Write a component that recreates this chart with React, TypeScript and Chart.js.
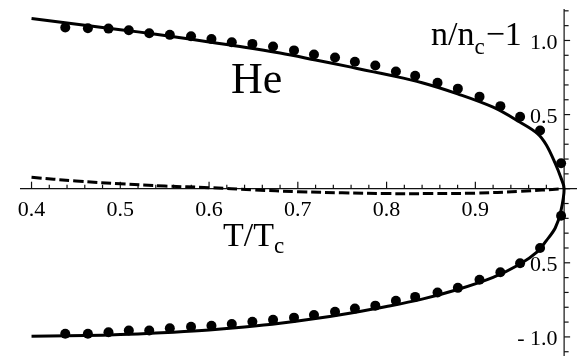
import React, { useEffect, useRef } from "react";
import { Chart, registerables } from "chart.js";

Chart.register(...registerables);

// Measured data points (T/Tc, n/nc - 1)
const dotT = [
  0.438, 0.4635, 0.4867, 0.5096, 0.5326, 0.5558, 0.5797, 0.6027, 0.6256, 0.6488,
  0.6721, 0.6957, 0.7182, 0.7419, 0.7643, 0.7873, 0.8105, 0.8322, 0.8574, 0.8803,
  0.9047, 0.9282, 0.9504, 0.9729, 0.9966,
];
const dotUpper = [
  1.087, 1.082, 1.08, 1.069, 1.049, 1.038, 1.028, 1.01, 0.988, 0.977,
  0.959, 0.933, 0.905, 0.885, 0.857, 0.831, 0.791, 0.762, 0.715, 0.675,
  0.621, 0.557, 0.485, 0.393, 0.172,
];
const dotLower = [
  -0.979, -0.979, -0.969, -0.957, -0.957, -0.942, -0.931, -0.925, -0.913, -0.898,
  -0.885, -0.87, -0.852, -0.831, -0.809, -0.789, -0.756, -0.73, -0.7, -0.669,
  -0.614, -0.564, -0.503, -0.4, -0.182,
];

// Theory curve, upper and lower branches
const curveT = [0.4, 0.44, 0.48, 0.52, 0.56, 0.6, 0.64, 0.68, 0.72, 0.76, 0.8, 0.84, 0.88, 0.92, 0.95, 0.97, 0.98, 0.99, 0.996, 1.0];
const curveUpper = [1.148, 1.118, 1.087, 1.058, 1.025, 0.99, 0.955, 0.915, 0.868, 0.82, 0.77, 0.715, 0.64, 0.55, 0.45, 0.372, 0.295, 0.17, 0.08, 0];
const curveLower = [-0.995, -0.993, -0.988, -0.98, -0.968, -0.953, -0.933, -0.908, -0.876, -0.838, -0.795, -0.745, -0.68, -0.598, -0.51, -0.425, -0.35, -0.265, -0.16, 0];

// Dashed curve
const dashT = [0.4, 0.45, 0.5, 0.55, 0.6, 0.65, 0.7, 0.75, 0.8, 0.85, 0.9, 0.95, 1.0];
const dashY = [0.077, 0.052, 0.033, 0.018, 0.007, -0.008, -0.02, -0.028, -0.033, -0.033, -0.03, -0.018, 0];

// Tick labels
const xTickValues = [0.4, 0.5, 0.6, 0.7, 0.8, 0.9];
const xTickLabels = ["0.4", "0.5", "0.6", "0.7", "0.8", "0.9"];
const yTickValues = [1.0, 0.5, -0.5, -1.0];
const yTickLabels = ["1.0", "0.5", "- 0.5", "- 1.0"];

const SERIF = "'Liberation Serif', 'DejaVu Serif', serif";

const axesPlugin = {
  id: "customAxes",
  beforeDatasetsDraw(chart: any) {
    const { ctx, scales } = chart;
    const xs = scales.x;
    const ys = scales.y;
    const y0 = ys.getPixelForValue(0);
    const x1 = xs.getPixelForValue(1.0);
    ctx.save();
    ctx.strokeStyle = "#111";
    ctx.fillStyle = "#000";
    ctx.lineWidth = 1.2;
    // x axis line
    ctx.beginPath();
    ctx.moveTo(xs.getPixelForValue(0.387), y0);
    ctx.lineTo(chart.width, y0);
    ctx.stroke();
    // x ticks (minor every 0.02)
    for (let i = 0; i < 30; i++) {
      const v = 0.4 + i * 0.02;
      const px = xs.getPixelForValue(v);
      const major = i % 5 === 0;
      ctx.beginPath();
      ctx.moveTo(px, y0);
      ctx.lineTo(px, y0 - (major ? 7 : 4));
      ctx.stroke();
    }
    // y axis line
    ctx.beginPath();
    ctx.moveTo(x1, ys.getPixelForValue(1.213));
    ctx.lineTo(x1, chart.height);
    ctx.stroke();
    for (let i = -11; i <= 12; i++) {
      const v = i / 10;
      const py = ys.getPixelForValue(v);
      const major = i % 5 === 0;
      ctx.beginPath();
      ctx.moveTo(x1, py);
      ctx.lineTo(x1 + (major ? 6 : 4.5), py);
      ctx.stroke();
    }
    // tick labels
    ctx.font = `22px ${SERIF}`;
    ctx.textAlign = "center";
    ctx.textBaseline = "alphabetic";
    xTickValues.forEach((v, i) => {
      ctx.fillText(xTickLabels[i], xs.getPixelForValue(v), y0 + 27);
    });
    ctx.textAlign = "right";
    yTickValues.forEach((v, i) => {
      ctx.fillText(yTickLabels[i], x1 - 6.5, ys.getPixelForValue(v) + 8.5);
    });
    // annotations
    ctx.textAlign = "left";
    ctx.font = `44px ${SERIF}`;
    ctx.fillText("He", 231, 93);
    ctx.font = `34px ${SERIF}`;
    ctx.fillText("T/T", 223, 246);
    let w = ctx.measureText("T/T").width;
    ctx.font = `23px ${SERIF}`;
    ctx.fillText("c", 223 + w, 253);
    ctx.font = `34px ${SERIF}`;
    ctx.fillText("n/n", 431, 45);
    w = ctx.measureText("n/n").width;
    ctx.font = `23px ${SERIF}`;
    ctx.fillText("c", 431 + w, 54);
    const wc = ctx.measureText("c").width;
    ctx.font = `34px ${SERIF}`;
    ctx.fillText("\u22121", 431 + w + wc + 1, 45);
    ctx.restore();
  },
};

export default function App() {
  const ref = useRef<HTMLCanvasElement>(null);
  useEffect(() => {
    if (!ref.current) return;
    const solid = [
      ...curveT.map((t, i) => ({ x: t, y: curveUpper[i] })),
      ...curveT
        .map((t, i) => ({ x: t, y: curveLower[i] }))
        .reverse()
        .slice(1),
    ];
    const chart = new Chart(ref.current, {
      type: "scatter",
      data: {
        datasets: [
          {
            data: dashT.map((t, i) => ({ x: t, y: dashY[i] })),
            showLine: true,
            borderColor: "#000",
            borderWidth: 3,
            borderDash: [10, 4],
            pointRadius: 0,
            tension: 0.4,
          },
          {
            data: solid,
            showLine: true,
            borderColor: "#000",
            borderWidth: 3,
            pointRadius: 0,
            tension: 0.35,
          },
          {
            data: dotT.map((t, i) => ({ x: t, y: dotUpper[i] })),
            showLine: false,
            pointRadius: 5,
            pointBackgroundColor: "#000",
            pointBorderWidth: 0,
          },
          {
            data: dotT.map((t, i) => ({ x: t, y: dotLower[i] })),
            showLine: false,
            pointRadius: 5,
            pointBackgroundColor: "#000",
            pointBorderWidth: 0,
          },
        ],
      },
      options: {
        animation: false,
        responsive: false,
        maintainAspectRatio: false,
        devicePixelRatio: 1,
        layout: { padding: 0 },
        plugins: { legend: { display: false }, tooltip: { enabled: false } },
        scales: {
          x: { type: "linear", display: false, min: 0.37011, max: 1.00888 },
          y: { type: "linear", display: false, min: -1.09508, max: 1.23934 },
        },
      },
      plugins: [axesPlugin],
    } as any);
    return () => chart.destroy();
  }, []);
  return (
    <div style={{ position: "fixed", left: 0, top: 0, width: 577, height: 356, background: "#fff" }}>
      <canvas ref={ref} width={577} height={356} style={{ display: "block" }} />
    </div>
  );
}
